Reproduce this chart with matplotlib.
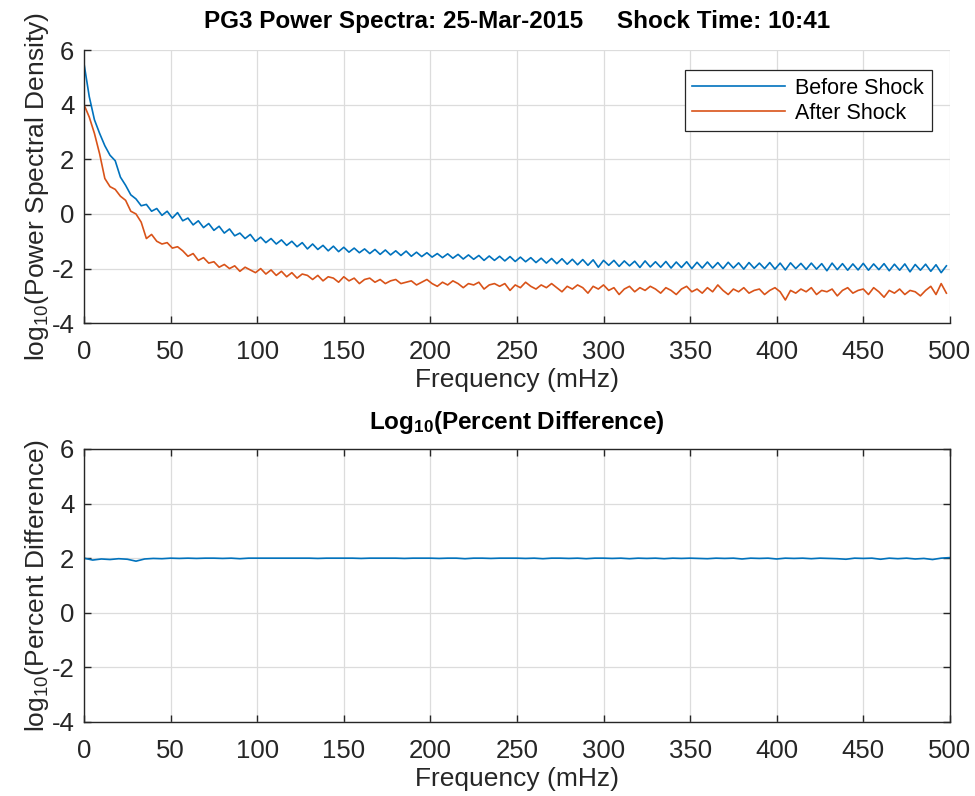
import numpy as np
import matplotlib
matplotlib.use("Agg")
import matplotlib.pyplot as plt

plt.rcParams['font.family'] = ['Liberation Sans', 'DejaVu Sans']
plt.rcParams['mathtext.fontset'] = 'custom'
plt.rcParams['mathtext.rm'] = 'Liberation Sans'
plt.rcParams['mathtext.bf'] = 'Liberation Sans:bold'
plt.rcParams['axes.unicode_minus'] = False

# ---------------------------------------------------------------- data
freq = np.arange(0, 499, 3)          # mHz, 167 bins

before = [
    5.50, 4.30, 3.45, 2.95, 2.50, 2.15, 1.95, 1.35, 1.05, 0.70,
    0.55, 0.30, 0.35, 0.10, 0.20, -0.05, 0.10, -0.15, 0.05, -0.25,
    -0.15, -0.40, -0.25, -0.50, -0.35, -0.60, -0.45, -0.70, -0.55, -0.80,
    -0.70, -0.90, -0.75, -1.00, -0.85, -1.05, -0.90, -1.10, -0.95, -1.15,
    -1.00, -1.20, -1.05, -1.28, -1.10, -1.30, -1.15, -1.35, -1.18, -1.38,
    -1.22, -1.40, -1.25, -1.42, -1.28, -1.45, -1.30, -1.48, -1.32, -1.50,
    -1.35, -1.52, -1.36, -1.55, -1.40, -1.56, -1.42, -1.58, -1.45, -1.60,
    -1.46, -1.62, -1.48, -1.65, -1.50, -1.66, -1.52, -1.70, -1.54, -1.70,
    -1.55, -1.72, -1.56, -1.74, -1.58, -1.75, -1.60, -1.78, -1.62, -1.80,
    -1.63, -1.82, -1.64, -1.84, -1.66, -1.86, -1.67, -1.88, -1.68, -1.95,
    -1.70, -1.88, -1.70, -1.92, -1.72, -1.90, -1.73, -1.96, -1.72, -1.94,
    -1.75, -1.95, -1.74, -1.98, -1.76, -1.96, -1.75, -2.00, -1.77, -1.98,
    -1.76, -1.98, -1.78, -2.00, -1.77, -1.98, -1.79, -2.02, -1.78, -1.99,
    -1.80, -2.00, -1.78, -2.02, -1.80, -2.05, -1.79, -2.00, -1.81, -2.03,
    -1.80, -2.02, -1.82, -2.08, -1.80, -2.04, -1.82, -2.06, -1.83, -2.05,
    -1.81, -2.06, -1.83, -2.04, -1.82, -2.08, -1.84, -2.06, -1.83, -2.12,
    -1.85, -2.06, -1.84, -2.10, -1.86, -2.15, -1.90,
]

after = [
    4.00, 3.55, 2.95, 2.20, 1.30, 1.00, 0.90, 0.65, 0.50, 0.10,
    0.00, -0.30, -0.90, -0.75, -1.00, -1.10, -1.05, -1.25, -1.20, -1.35,
    -1.55, -1.45, -1.70, -1.60, -1.80, -1.75, -1.95, -1.85, -2.00, -1.90,
    -2.10, -1.95, -2.05, -2.15, -2.00, -2.20, -2.05, -2.25, -2.10, -2.30,
    -2.15, -2.35, -2.20, -2.25, -2.40, -2.25, -2.45, -2.30, -2.35, -2.50,
    -2.30, -2.45, -2.35, -2.55, -2.40, -2.35, -2.50, -2.40, -2.55, -2.45,
    -2.40, -2.55, -2.50, -2.45, -2.60, -2.50, -2.40, -2.55, -2.65, -2.50,
    -2.60, -2.45, -2.55, -2.70, -2.55, -2.60, -2.50, -2.75, -2.60, -2.55,
    -2.65, -2.55, -2.80, -2.60, -2.70, -2.50, -2.65, -2.75, -2.60, -2.70,
    -2.55, -2.70, -2.85, -2.65, -2.75, -2.60, -2.70, -2.90, -2.65, -2.75,
    -2.60, -2.80, -2.70, -2.95, -2.75, -2.65, -2.85, -2.70, -2.80, -2.65,
    -2.75, -2.90, -2.70, -2.80, -2.95, -2.75, -2.65, -2.85, -2.75, -2.90,
    -2.70, -2.85, -2.60, -2.80, -2.95, -2.75, -2.85, -2.70, -2.90, -2.80,
    -2.75, -2.95, -2.80, -2.70, -2.85, -3.15, -2.80, -2.90, -2.75, -2.85,
    -2.70, -2.95, -2.80, -2.85, -2.75, -3.00, -2.80, -2.70, -2.90, -2.80,
    -2.75, -2.95, -2.70, -2.85, -3.05, -2.80, -2.90, -2.75, -2.95, -2.80,
    -2.85, -3.00, -2.80, -2.65, -2.95, -2.55, -2.90,
]

freq_diff = np.arange(0, 501, 5)     # mHz, 101 bins
pct_diff = [
    2.00, 1.93, 1.97, 1.95, 1.98, 1.96, 1.89, 1.97, 1.99, 1.98,
    2.00, 1.99, 2.00, 1.99, 2.00, 2.00, 1.99, 2.00, 1.98, 2.00,
    2.00, 2.00, 2.00, 2.00, 2.00, 2.00, 2.00, 1.99, 2.00, 2.00,
    2.00, 2.00, 1.99, 2.00, 2.00, 2.00, 2.00, 1.99, 2.00, 2.00,
    2.00, 1.99, 2.00, 2.00, 1.98, 2.00, 2.00, 1.99, 2.00, 2.00,
    2.00, 1.99, 2.00, 1.98, 2.00, 2.00, 1.99, 2.00, 1.98, 2.00,
    2.00, 1.99, 2.00, 1.98, 2.00, 1.99, 2.00, 1.98, 2.00, 1.99,
    2.00, 1.99, 1.98, 2.00, 1.99, 2.00, 1.97, 2.00, 1.99, 2.00,
    1.97, 2.00, 1.99, 2.00, 1.98, 2.00, 1.99, 1.98, 1.96, 2.00,
    1.99, 2.00, 1.96, 2.00, 1.98, 2.00, 1.97, 1.99, 1.95, 2.00,
    2.02,
]

xticks = np.arange(0, 501, 50)
yticks = np.arange(-4, 7, 2)

c_blue = '#0072BD'
c_orange = '#D95319'
txt = '#262626'

# ---------------------------------------------------------------- figure
fig = plt.figure(figsize=(9.75, 7.96), dpi=100, facecolor='white')
ax1 = fig.add_axes([0.0862, 0.594, 0.888, 0.343])
ax2 = fig.add_axes([0.0862, 0.093, 0.888, 0.343])


def style(ax, box):
    ax.set_xlim(0, 500)
    ax.set_ylim(-4, 6)
    ax.set_xticks(xticks)
    ax.set_yticks(yticks)
    ax.grid(True, color='#dcdcdc', linewidth=0.9)
    ax.set_axisbelow(True)
    ax.tick_params(direction='in', length=5, width=1, colors=txt,
                   labelsize=18.5, top=box, right=box)
    ax.tick_params(axis='x', pad=12)
    ax.tick_params(axis='y', pad=7)
    for s in ['left', 'bottom']:
        ax.spines[s].set_color('#262626')
        ax.spines[s].set_linewidth(1)
    for s in ['top', 'right']:
        ax.spines[s].set_visible(box)
        ax.spines[s].set_color('#262626')
        ax.spines[s].set_linewidth(1)
    ax.set_xlabel('Frequency (mHz)', fontsize=19, color=txt, labelpad=3)


# top: power spectra
ax1.plot(freq, before, color=c_blue, lw=1.2, label='Before Shock')
ax1.plot(freq, after, color=c_orange, lw=1.2, label='After Shock')
style(ax1, False)
ax1.set_ylabel(r'log$_{10}$(Power Spectral Density)', fontsize=19, color=txt, labelpad=0)
ax1.set_title('PG3 Power Spectra: 25-Mar-2015     Shock Time: 10:41',
              fontsize=17.5, fontweight='bold', pad=16)
leg = ax1.legend(loc='upper right', fontsize=15.5, fancybox=False,
                 edgecolor='#262626', framealpha=1, handlelength=4.3,
                 borderpad=0.35, labelspacing=0.2, handletextpad=0.5,
                 borderaxespad=0, bbox_to_anchor=(0.979, 0.927))
leg.get_frame().set_linewidth(0.9)

# bottom: percent difference
ax2.plot(freq_diff, pct_diff, color=c_blue, lw=1.2)
style(ax2, True)
ax2.set_ylabel(r'log$_{10}$(Percent Difference)', fontsize=19, color=txt, labelpad=0)
ax2.set_title(r'$\mathbf{Log_{10}}$(Percent Difference)', fontsize=17.5,
              fontweight='bold', pad=14)

fig.savefig('out.png', dpi=100, facecolor='white')
